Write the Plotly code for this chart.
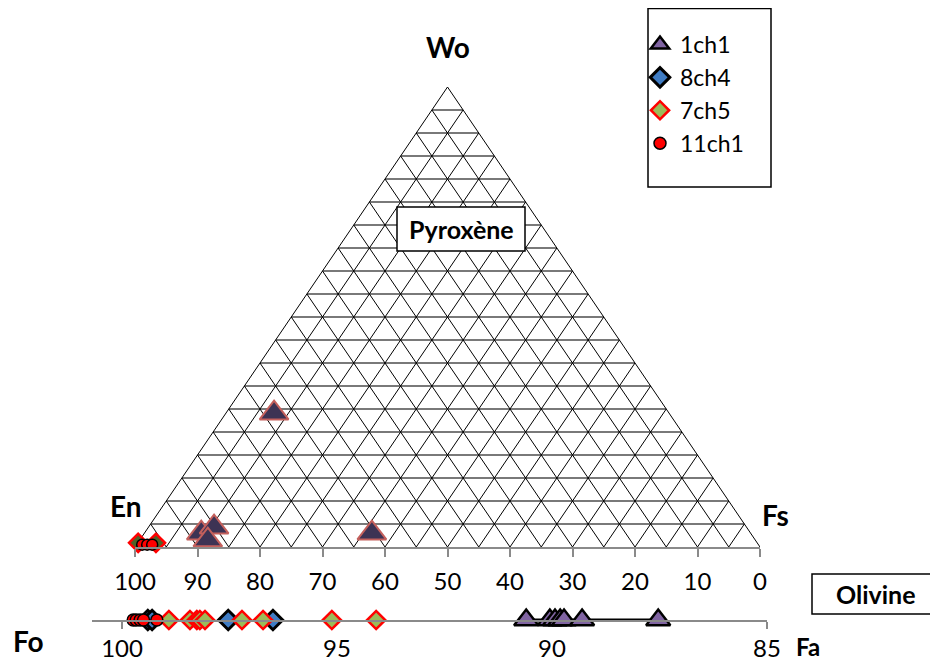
import plotly.graph_objects as go

# The page body has an 8px margin on every side; size the figure so the page is exactly 938x670
OFF = 8
W, H = 938 - 2 * OFF, 670 - 2 * OFF

# ---------------- data ----------------
# Pyroxene compositions (Wo and Fs in %, En = 100 - Wo - Fs)
pyx_1ch1_wo = [29.1, 3.0, 3.0, 4.3, 1.5]
pyx_1ch1_fs = [7.7, 36.4, 9.1, 10.5, 10.9]
pyx_7ch5_wo = [0.9, 0.9]
pyx_7ch5_fs = [0.05, 2.9]
pyx_11ch1_wo = [0.5, 0.5, 0.5]
pyx_11ch1_fs = [0.9, 1.7, 2.5]

# Olivine compositions (Fo %)
ol_1ch1 = [90.60, 90.05, 89.93, 89.81, 89.72, 89.30, 87.53]
ol_8ch4 = [99.40, 99.30, 97.53, 96.49]
ol_7ch5 = [98.91, 98.42, 98.26, 98.19, 98.07, 97.21, 96.72, 95.12, 94.09]
ol_11ch1 = [99.74, 99.67, 99.58, 99.50, 99.19]

base_ticks = list(range(0, 101, 10))
base_labels = [str(100 - v) for v in base_ticks]
ol_ticks = [100, 95, 90, 85]
ol_tick_marks = [100, 85]
grid_steps = list(range(5, 100, 5))

FONT = "Lato, 'Open Sans', sans-serif"


def tern_xy(wo, fs):
    x = [f + w / 2 for w, f in zip(wo, fs)]
    return x, list(wo)


def px(x):
    return (x - OFF) / W


def py(y):
    return 1 - (y - OFF) / H


def zeros(a):
    return [0] * len(a)


fig = go.Figure()

# ---------------- triangle grid ----------------
hx, hy = [], []
for s in grid_steps:
    hx += [s / 2, 100 - s / 2, None]
    hy += [s, s, None]
dx, dy = [], []
for t in grid_steps:
    dx += [t, 50 + t / 2, None, t, t / 2, None]
    dy += [0, 100 - t, None, 0, t, None]
dx += [0, 50, 100]
dy += [0, 100, 0]

fig.add_trace(go.Scatter(x=hx, y=hy, mode="lines", line=dict(color="#4d4d4d", width=1.4),
                         hoverinfo="skip", showlegend=False, xaxis="x", yaxis="y"))
fig.add_trace(go.Scatter(x=dx, y=dy, mode="lines", line=dict(color="black", width=1),
                         hoverinfo="skip", showlegend=False, xaxis="x", yaxis="y"))

# ---------------- pyroxene points ----------------
x, y = tern_xy(pyx_1ch1_wo, pyx_1ch1_fs)
fig.add_trace(go.Scatter(x=x, y=y, mode="markers", name="1ch1", showlegend=False,
                         marker=dict(symbol="triangle-up", size=25, color="#3d3354",
                                     line=dict(color="#c4605c", width=2)),
                         cliponaxis=False, xaxis="x", yaxis="y"))
x, y = tern_xy(pyx_7ch5_wo, pyx_7ch5_fs)
fig.add_trace(go.Scatter(x=x, y=y, mode="markers", name="7ch5", showlegend=False,
                         marker=dict(symbol="diamond", size=14, color="#4f6228",
                                     line=dict(color="#ff0000", width=2.5)),
                         cliponaxis=False, xaxis="x", yaxis="y"))
x, y = tern_xy(pyx_11ch1_wo, pyx_11ch1_fs)
fig.add_trace(go.Scatter(x=x, y=y, mode="markers", name="11ch1", showlegend=False,
                         marker=dict(symbol="circle", size=11, color="#ff0000",
                                     line=dict(color="black", width=1.5)),
                         cliponaxis=False, xaxis="x", yaxis="y"))

# ---------------- olivine points ----------------
fig.add_trace(go.Scatter(x=ol_1ch1, y=zeros(ol_1ch1), mode="lines", showlegend=False,
                         line=dict(color="black", width=3), hoverinfo="skip",
                         cliponaxis=False, xaxis="x2", yaxis="y2"))
fig.add_trace(go.Scatter(x=ol_1ch1, y=zeros(ol_1ch1), mode="markers", name="1ch1",
                         legendrank=1,
                         marker=dict(symbol="triangle-up", size=21, color="#8064a2",
                                     line=dict(color="black", width=2.5)),
                         cliponaxis=False, xaxis="x3", yaxis="y2"))
fig.add_trace(go.Scatter(x=ol_8ch4, y=zeros(ol_8ch4), mode="markers", name="8ch4",
                         legendrank=2,
                         marker=dict(symbol="diamond", size=15, color="#3f7cc4",
                                     line=dict(color="black", width=3)),
                         cliponaxis=False, xaxis="x3", yaxis="y2"))
fig.add_trace(go.Scatter(x=ol_7ch5, y=zeros(ol_7ch5), mode="markers", name="7ch5",
                         legendrank=3,
                         marker=dict(symbol="diamond", size=14, color="#9bbb59",
                                     line=dict(color="#ff0000", width=2.5)),
                         cliponaxis=False, xaxis="x3", yaxis="y2"))
fig.add_trace(go.Scatter(x=ol_11ch1, y=zeros(ol_11ch1), mode="markers", name="11ch1",
                         legendrank=4,
                         marker=dict(symbol="circle", size=12, color="#ff0000",
                                     line=dict(color="black", width=1.5)),
                         cliponaxis=False, xaxis="x3", yaxis="y2"))

# ---------------- layout ----------------
tick_font = dict(family=FONT, size=24, color="black")
axis_gray = "#8a8a8a"

fig.update_layout(
    width=W, height=H,
    margin=dict(l=0, r=0, t=0, b=0, autoexpand=False),
    paper_bgcolor="white", plot_bgcolor="rgba(0,0,0,0)",
    font=dict(family=FONT, color="black"),
    xaxis=dict(domain=[px(135), px(760)], range=[0, 100], anchor="y",
               tickmode="array", tickvals=base_ticks, ticktext=base_labels,
               ticks="outside", ticklen=8, tickwidth=2, tickcolor=axis_gray,
               showline=True, linecolor=axis_gray, linewidth=2,
               showgrid=False, zeroline=False, tickfont=tick_font,
               ticklabelstandoff=4, automargin=False, fixedrange=True),
    yaxis=dict(domain=[py(547), py(87)], range=[0, 100], anchor="x", visible=False,
               automargin=False, fixedrange=True),
    xaxis2=dict(domain=[px(92), px(767)], range=[100.698, 85], anchor="y2",
                tickmode="array", tickvals=ol_tick_marks, ticks="outside", ticklen=7,
                tickwidth=2, tickcolor=axis_gray, showticklabels=False,
                showline=True, linecolor=axis_gray, linewidth=2,
                showgrid=False, zeroline=False, automargin=False, fixedrange=True),
    xaxis3=dict(range=[100.698, 85], anchor="y2", overlaying="x2",
                tickmode="array", tickvals=ol_ticks, ticks="", tickfont=tick_font,
                showline=False, showgrid=False, zeroline=False,
                ticklabelstandoff=12, automargin=False, fixedrange=True),
    yaxis2=dict(domain=[py(620), py(590)], range=[0, 1], anchor="x2", visible=False,
                automargin=False, fixedrange=True),
    legend=dict(x=px(640), y=py(23), xanchor="left", yanchor="top",
                bgcolor="rgba(0,0,0,0)", borderwidth=0,
                font=dict(family=FONT, size=23, color="black"),
                itemclick=False, itemdoubleclick=False),
    showlegend=True,
)

shapes = [
    dict(type="rect", xref="paper", yref="paper", x0=px(648), x1=px(771), y0=py(8.5), y1=py(187),
         line=dict(color="black", width=1.5), fillcolor="rgba(0,0,0,0)"),
    dict(type="rect", xref="paper", yref="paper", x0=px(397), x1=px(525), y0=py(207), y1=py(251),
         line=dict(color="black", width=1.5), fillcolor="white"),
    dict(type="rect", xref="paper", yref="paper", x0=px(812), x1=px(960), y0=py(574), y1=py(614),
         line=dict(color="black", width=1.5), fillcolor="white"),
]
fig.update_layout(shapes=shapes)


def lab(text, x, y, size=28):
    return dict(text="<b>%s</b>" % text, x=px(x), y=py(y), xref="paper", yref="paper",
                showarrow=False, xanchor="center", yanchor="middle",
                font=dict(family=FONT, size=size, color="black"))


fig.update_layout(annotations=[
    lab("Wo", 448, 47),
    lab("En", 126, 506),
    lab("Fs", 775, 515),
    lab("Fo", 28, 641),
    lab("Fa", 808, 646, 24),
    lab("Pyroxène", 461, 229, 25),
    lab("Olivine", 876, 594, 25),
])

fig.write_html("out.html")
